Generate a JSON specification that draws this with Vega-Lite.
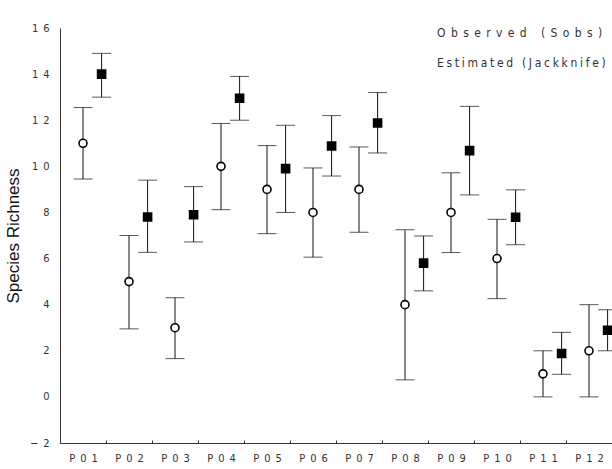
{
  "$schema": "https://vega.github.io/schema/vega-lite/v6.json",
  "width": 552,
  "height": 415,
  "autosize": {"type": "none"},
  "padding": {"left": 60, "top": 28, "right": 0, "bottom": 26},
  "background": "white",
  "config": {"view": {"stroke": null}, "font": "DejaVu Sans Condensed, Liberation Sans, sans-serif"},
  "data": {"values": [
    {"site": "P01", "series": "Observed (Sobs)", "value": 11, "lo": 9.45, "hi": 12.55},
    {"site": "P01", "series": "Estimated (Jackknife)", "value": 14, "lo": 13, "hi": 14.9},
    {"site": "P02", "series": "Observed (Sobs)", "value": 5, "lo": 2.95, "hi": 7.0},
    {"site": "P02", "series": "Estimated (Jackknife)", "value": 7.8, "lo": 6.27, "hi": 9.4},
    {"site": "P03", "series": "Observed (Sobs)", "value": 3, "lo": 1.66, "hi": 4.3},
    {"site": "P03", "series": "Estimated (Jackknife)", "value": 7.9, "lo": 6.72, "hi": 9.12},
    {"site": "P04", "series": "Observed (Sobs)", "value": 10, "lo": 8.12, "hi": 11.86},
    {"site": "P04", "series": "Estimated (Jackknife)", "value": 12.95, "lo": 12, "hi": 13.9},
    {"site": "P05", "series": "Observed (Sobs)", "value": 9, "lo": 7.08, "hi": 10.9},
    {"site": "P05", "series": "Estimated (Jackknife)", "value": 9.9, "lo": 8, "hi": 11.78},
    {"site": "P06", "series": "Observed (Sobs)", "value": 8, "lo": 6.06, "hi": 9.93},
    {"site": "P06", "series": "Estimated (Jackknife)", "value": 10.88, "lo": 9.58, "hi": 12.2},
    {"site": "P07", "series": "Observed (Sobs)", "value": 9, "lo": 7.14, "hi": 10.84},
    {"site": "P07", "series": "Estimated (Jackknife)", "value": 11.88, "lo": 10.58, "hi": 13.2},
    {"site": "P08", "series": "Observed (Sobs)", "value": 4, "lo": 0.74, "hi": 7.25},
    {"site": "P08", "series": "Estimated (Jackknife)", "value": 5.8, "lo": 4.6, "hi": 6.98},
    {"site": "P09", "series": "Observed (Sobs)", "value": 8, "lo": 6.26, "hi": 9.72},
    {"site": "P09", "series": "Estimated (Jackknife)", "value": 10.68, "lo": 8.76, "hi": 12.6},
    {"site": "P10", "series": "Observed (Sobs)", "value": 6, "lo": 4.26, "hi": 7.7},
    {"site": "P10", "series": "Estimated (Jackknife)", "value": 7.79, "lo": 6.6, "hi": 8.98},
    {"site": "P11", "series": "Observed (Sobs)", "value": 1, "lo": 0, "hi": 2},
    {"site": "P11", "series": "Estimated (Jackknife)", "value": 1.88, "lo": 0.98, "hi": 2.8},
    {"site": "P12", "series": "Observed (Sobs)", "value": 2, "lo": 0, "hi": 4},
    {"site": "P12", "series": "Estimated (Jackknife)", "value": 2.89, "lo": 2, "hi": 3.78}
  ]},
  "encoding": {
    "x": {
      "field": "site", "type": "nominal", "sort": null,
      "scale": {"type": "band", "paddingInner": 0, "paddingOuter": 0},
      "axis": {
        "title": null, "labelAngle": 0, "tickBand": "extent", "tickSize": -3,
        "tickColor": "#333", "domainColor": "#333", "labelPadding": 12,
        "labelFont": "DejaVu Sans Condensed, Liberation Sans, sans-serif", "labelFontSize": 11, "labelColor": "#333",
        "labelExpr": "join(split(datum.label, ''), '\u2002')"
      }
    },
    "xOffset": {
      "field": "series", "type": "nominal",
      "scale": {"domain": ["Observed (Sobs)", "Estimated (Jackknife)"], "range": [13.7, 50.9], "paddingInner": 0, "paddingOuter": 0}
    }
  },
  "layer": [
    {
      "mark": {"type": "rule", "color": "#111", "strokeWidth": 1},
      "encoding": {
        "y": {
          "field": "lo", "type": "quantitative", "title": "Species Richness",
          "scale": {"domain": [-2, 16], "nice": false, "zero": false},
          "axis": {
            "values": [-2, 0, 2, 4, 6, 8, 10, 12, 14, 16],
            "ticks": false, "grid": false, "domainColor": "#333", "labelPadding": 11,
            "labelFont": "DejaVu Sans Condensed, Liberation Sans, sans-serif", "labelFontSize": 11, "labelColor": "#333",
            "labelExpr": "join(split(datum.label, ''), '\u2002')",
            "titleFont": "Liberation Sans", "titleFontSize": 17, "titleFontWeight": "normal",
            "titleColor": "#111", "titlePadding": 7
          }
        },
        "y2": {"field": "hi"}
      }
    },
    {
      "mark": {"type": "tick", "color": "#111", "size": 19, "thickness": 1, "orient": "horizontal"},
      "encoding": {"y": {"field": "lo", "type": "quantitative", "title": "Species Richness"}}
    },
    {
      "mark": {"type": "tick", "color": "#111", "size": 19, "thickness": 1, "orient": "horizontal"},
      "encoding": {"y": {"field": "hi", "type": "quantitative", "title": "Species Richness"}}
    },
    {
      "mark": {"type": "point", "stroke": "black", "strokeWidth": 1.6, "size": 64, "opacity": 1},
      "encoding": {
        "y": {"field": "value", "type": "quantitative", "title": "Species Richness"},
        "shape": {
          "field": "series", "type": "nominal",
          "scale": {"domain": ["Observed (Sobs)", "Estimated (Jackknife)"], "range": ["circle", "square"]},
          "legend": {
            "orient": "none", "legendX": 365, "legendY": -1, "title": null, "padding": 0,
            "symbolSize": 0, "symbolOpacity": 0, "symbolStrokeWidth": 0, "labelOffset": 0,
            "labelFont": "DejaVu Sans Condensed, Liberation Sans, sans-serif", "labelFontSize": 12, "labelColor": "#333",
            "rowPadding": 18, "labelLimit": 400,
            "labelExpr": "join(split(datum.label, ''), indexof(datum.label, 'Obs') == 0 ? '\u2005\u2005' : '\u2005')"
          }
        },
        "fill": {
          "field": "series", "type": "nominal",
          "scale": {"domain": ["Observed (Sobs)", "Estimated (Jackknife)"], "range": ["white", "black"]},
          "legend": null
        }
      }
    }
  ]
}
